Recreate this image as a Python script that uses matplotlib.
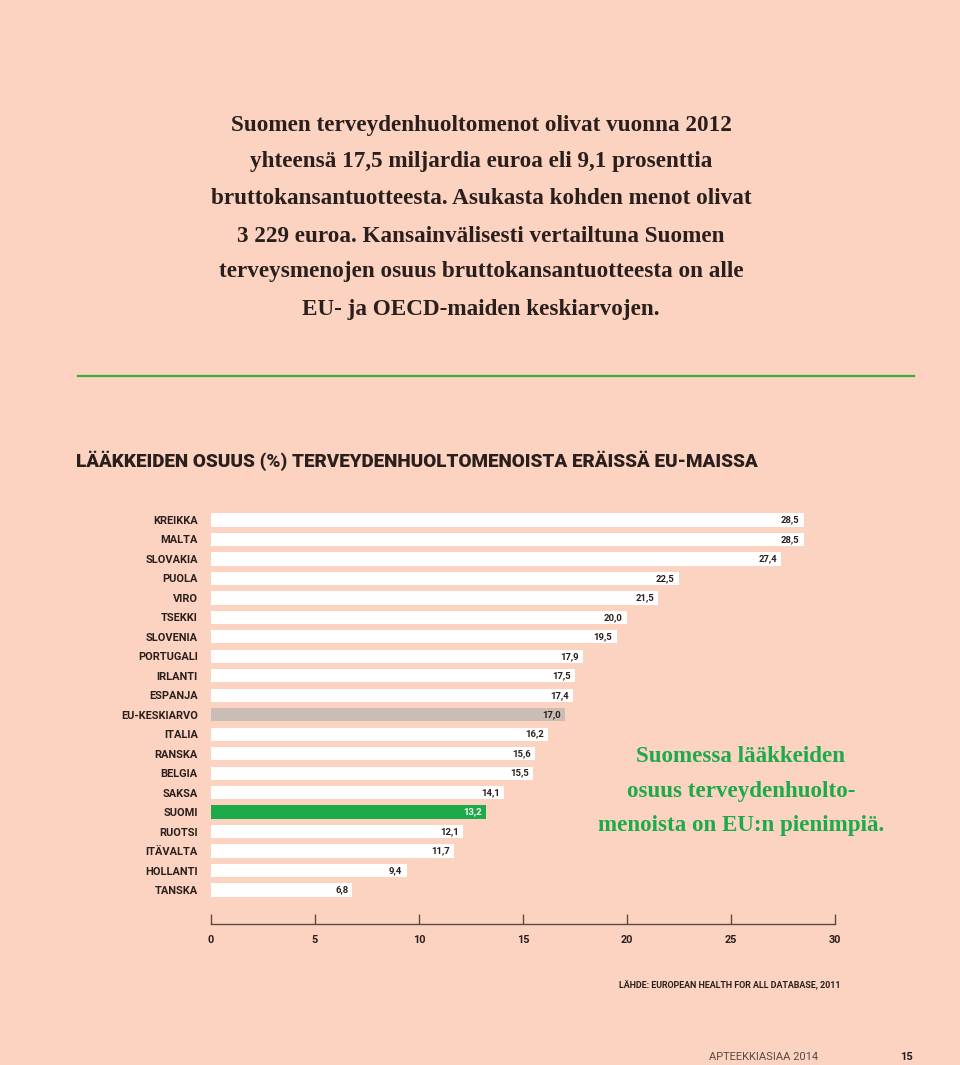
import matplotlib
matplotlib.use("Agg")
import matplotlib.pyplot as plt

countries = ["KREIKKA", "MALTA", "SLOVAKIA", "PUOLA", "VIRO", "TSEKKI", "SLOVENIA",
             "PORTUGALI", "IRLANTI", "ESPANJA", "EU-KESKIARVO", "ITALIA", "RANSKA",
             "BELGIA", "SAKSA", "SUOMI", "RUOTSI", "ITÄVALTA", "HOLLANTI", "TANSKA"]
values = [28.5, 28.5, 27.4, 22.5, 21.5, 20.0, 19.5, 17.9, 17.5, 17.4, 17.0, 16.2,
          15.6, 15.5, 14.1, 13.2, 12.1, 11.7, 9.4, 6.8]
xticks = [0, 5, 10, 15, 20, 25, 30]

intro_lines = [
    "Suomen terveydenhuoltomenot olivat vuonna 2012",
    "yhteensä 17,5 miljardia euroa eli 9,1 prosenttia",
    "bruttokansantuotteesta. Asukasta kohden menot olivat",
    "3 229 euroa. Kansainvälisesti vertailtuna Suomen",
    "terveysmenojen osuus bruttokansantuotteesta on alle",
    "EU- ja OECD-maiden keskiarvojen.",
]
callout_lines = ["Suomessa lääkkeiden", "osuus terveydenhuolto-", "menoista on EU:n pienimpiä."]
chart_title = "LÄÄKKEIDEN OSUUS (%) TERVEYDENHUOLTOMENOISTA ERÄISSÄ EU-MAISSA"
source = "LÄHDE: EUROPEAN HEALTH FOR ALL DATABASE, 2011"

BG = "#FBD3C0"
DARK = "#2A1F1D"
GREEN = "#1DAA4B"
GRAY = "#C9BDB6"
W, H = 960, 1065

fig = plt.figure(figsize=(W / 100, H / 100), dpi=100, facecolor=BG)

def fx(x):
    return x / W

def fy(y):
    return 1 - y / H

# Intro paragraph
ys = [125, 161, 198, 236, 272, 310]
for t, y in zip(intro_lines, ys):
    fig.text(fx(481), fy(y), t, ha="center", va="center", fontsize=16.7,
             fontweight="bold", family="Liberation Serif", color=DARK)

# Green rule
fig.add_artist(plt.Line2D([fx(78), fx(914)], [fy(376), fy(376)], color="#3DAA3A", lw=1.6))

# Chart title
fig.text(fx(76), fy(461), chart_title, ha="left", va="center", fontsize=13.6,
         fontweight="black", family="Roboto", color=DARK)

# Axes: x 0..30 -> px 211..835 ; rows centred at 520 + i*19.47
x0, x1 = 211, 835
top, bot = 505, 924
ax = fig.add_axes([fx(x0), fy(bot), (x1 - x0) / W, (bot - top) / H])
ax.set_facecolor("none")
step = (890 - 520) / 19
ax.set_xlim(0, 30)
ax.set_ylim((bot - 520) / step, (top - 520) / step)

colors = []
for c in countries:
    if c == "SUOMI":
        colors.append(GREEN)
    elif c == "EU-KESKIARVO":
        colors.append(GRAY)
    else:
        colors.append("white")
ypos = list(range(len(countries)))
ax.barh(ypos, values, height=0.68, color=colors, linewidth=0)

for y, v, c in zip(ypos, values, countries):
    ax.annotate(f"{v:.1f}".replace(".", ","), xy=(v, y), xytext=(-3, 0),
                textcoords="offset points", ha="right", va="center",
                fontsize=6.8, fontweight="bold", family="Roboto",
                color="white" if c == "SUOMI" else DARK)

ax.set_yticks(ypos)
ax.set_yticklabels(countries, fontsize=7.9, fontweight="bold", family="Roboto", color=DARK)
ax.tick_params(axis="y", length=0, pad=9.5)
ax.set_xticks(xticks)
ax.set_xticklabels([str(t) for t in xticks], fontsize=7.8, fontweight="bold",
                   family="Roboto", color=DARK)
ax.tick_params(axis="x", direction="in", length=7, width=1, color="#5A4A42", pad=8)
for s in ["top", "right", "left"]:
    ax.spines[s].set_visible(False)
ax.spines["bottom"].set_color("#5A4A42")
ax.spines["bottom"].set_linewidth(1)

# Callout
for t, y in zip(callout_lines, [757, 791, 826]):
    fig.text(fx(741), fy(y), t, ha="center", va="center", fontsize=16.6,
             fontweight="bold", family="Liberation Serif", color=GREEN)

# Source and footer
fig.text(fx(619), fy(985), source, ha="left", va="center", fontsize=6.4,
         fontweight="bold", family="Roboto", color=DARK)
fig.text(fx(818), fy(1057), "APTEEKKIASIAA 2014", ha="right", va="center",
         fontsize=8, family="Roboto", color="#5A4A42")
fig.text(fx(913), fy(1057), "15", ha="right", va="center", fontsize=8,
         fontweight="bold", family="Roboto", color=DARK)

fig.savefig("out.png", dpi=100, facecolor=BG)
